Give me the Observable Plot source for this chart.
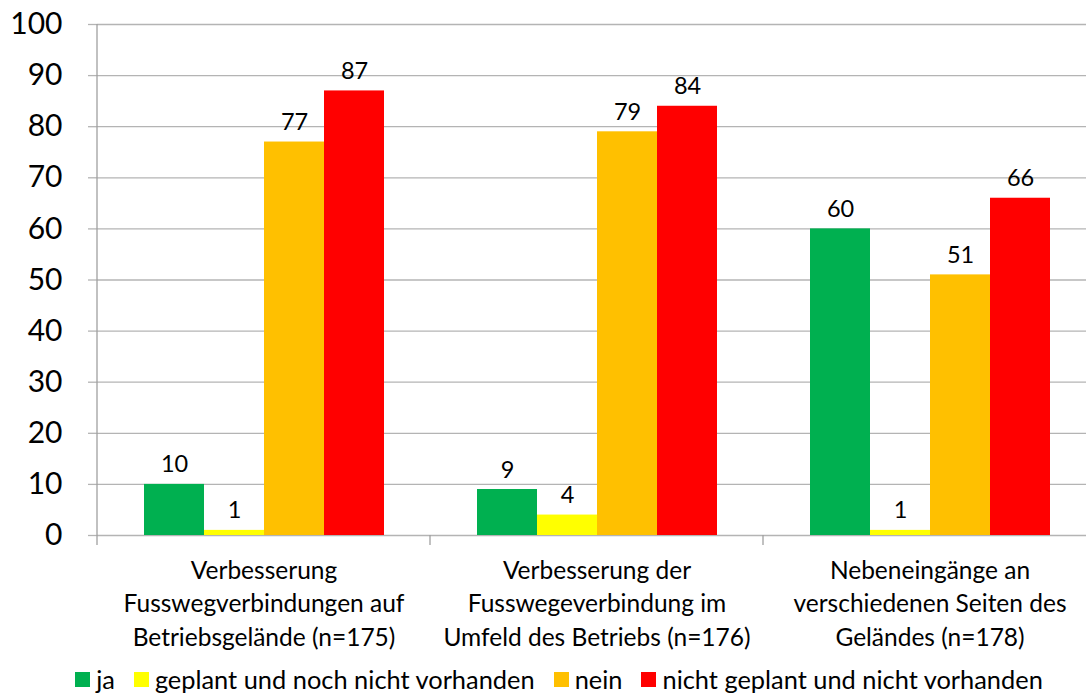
<!DOCTYPE html>
<html><head><meta charset="utf-8">
<script src="https://cdn.jsdelivr.net/npm/d3@7"></script>
<script src="https://cdn.jsdelivr.net/npm/@observablehq/plot@0.6"></script>
<style>
html,body{margin:0;padding:0;background:#fff;}
body{font-family:Lato,"Open Sans",sans-serif;}
#wrap{width:1086px;height:697px;overflow:hidden;position:relative;}
#chart{width:1096px;}
#legend{position:absolute;left:0;top:664px;width:1086px;display:flex;justify-content:center;padding-left:32px;box-sizing:border-box;font-size:25.4px;line-height:30px;color:#000;white-space:nowrap;}
.item{display:flex;align-items:center;margin-right:19px;}
.item:last-child{margin-right:0;}
.sw{width:15px;height:15px;margin-right:6px;display:inline-block;}
</style></head><body>
<div id="wrap"><div id="chart"></div><div id="legend"></div></div>
<script>
const categories = [
  "Verbesserung\nFusswegverbindungen auf\nBetriebsgelände (n=175)",
  "Verbesserung der\nFusswegeverbindung im\nUmfeld des Betriebs (n=176)",
  "Nebeneingänge an\nverschiedenen Seiten des\nGeländes (n=178)"
];
const seriesNames = ["ja", "geplant und noch nicht vorhanden", "nein", "nicht geplant und nicht vorhanden"];
const seriesColors = ["#00B050", "#FFFF00", "#FFC000", "#FF0000"];
const ja = [10, 9, 60];
const geplant = [1, 4, 1];
const nein = [77, 79, 51];
const nichtGeplant = [87, 84, 66];
const yTicks = [0, 10, 20, 30, 40, 50, 60, 70, 80, 90, 100];

const seriesValues = [ja, geplant, nein, nichtGeplant];
const data = [];
categories.forEach((c, i) => {
  seriesNames.forEach((s, j) => {
    data.push({cat: c, series: s, value: seriesValues[j][i]});
  });
});

const chart = Plot.plot({
  width: 1096,
  height: 650,
  marginLeft: 97,
  marginRight: 0,
  marginTop: 24,
  marginBottom: 115,
  style: {fontFamily: "Lato, 'Open Sans', sans-serif", background: "#fff", color: "#000", overflow: "visible", maxWidth: "none"},
  fx: {domain: categories, padding: 0, axis: null},
  x: {domain: seriesNames, paddingInner: 0, paddingOuter: 0.75, axis: null},
  y: {domain: [0, 100], axis: null},
  color: {domain: seriesNames, range: seriesColors},
  marks: [
    Plot.gridY(yTicks, {stroke: "#b4b4b4", strokeOpacity: 1, strokeWidth: 1.3}),
    Plot.axisY(yTicks, {tickSize: 9, tickPadding: 26, fontSize: 30, stroke: "#b4b4b4", strokeWidth: 1.3, label: null, fill: "#000"}),
    Plot.barY(data, {fx: "cat", x: "series", y: "value", fill: "series"}),
    Plot.text(data, {fx: "cat", x: "series", y: "value", text: d => String(d.value), dy: -12, lineAnchor: "bottom", fontSize: 23.5, fill: "#000"}),
    Plot.axisFx({anchor: "bottom", tickSize: 0, tickPadding: 20, fontSize: 24.5, lineHeight: 1.36, label: null, fill: "#000"})
  ]
});
chart.style.maxWidth = "none";
document.getElementById("chart").appendChild(chart);

// axis line and category boundary ticks, positioned from the plot's own scales
const fx = chart.scale("fx");
const y = chart.scale("y");
const svg = d3.select(chart);
const y0 = y.apply(0), y100 = y.apply(100);
const x0 = fx.range[0];
svg.append("line").attr("x1", x0).attr("x2", x0).attr("y1", y100).attr("y2", y0 + 10)
  .attr("stroke", "#a0a0a0").attr("stroke-width", 1.3);
for (let i = 1; i <= categories.length; i++) {
  const xx = x0 + i * fx.step;
  svg.append("line").attr("x1", xx).attr("x2", xx).attr("y1", y0).attr("y2", y0 + 10)
    .attr("stroke", "#a0a0a0").attr("stroke-width", 1.3);
}

// legend
const legend = d3.select("#legend");
seriesNames.forEach((s, j) => {
  const it = legend.append("div").attr("class", "item");
  it.append("span").attr("class", "sw").style("background", seriesColors[j]);
  it.append("span").text(s);
});
</script>
</body></html>
